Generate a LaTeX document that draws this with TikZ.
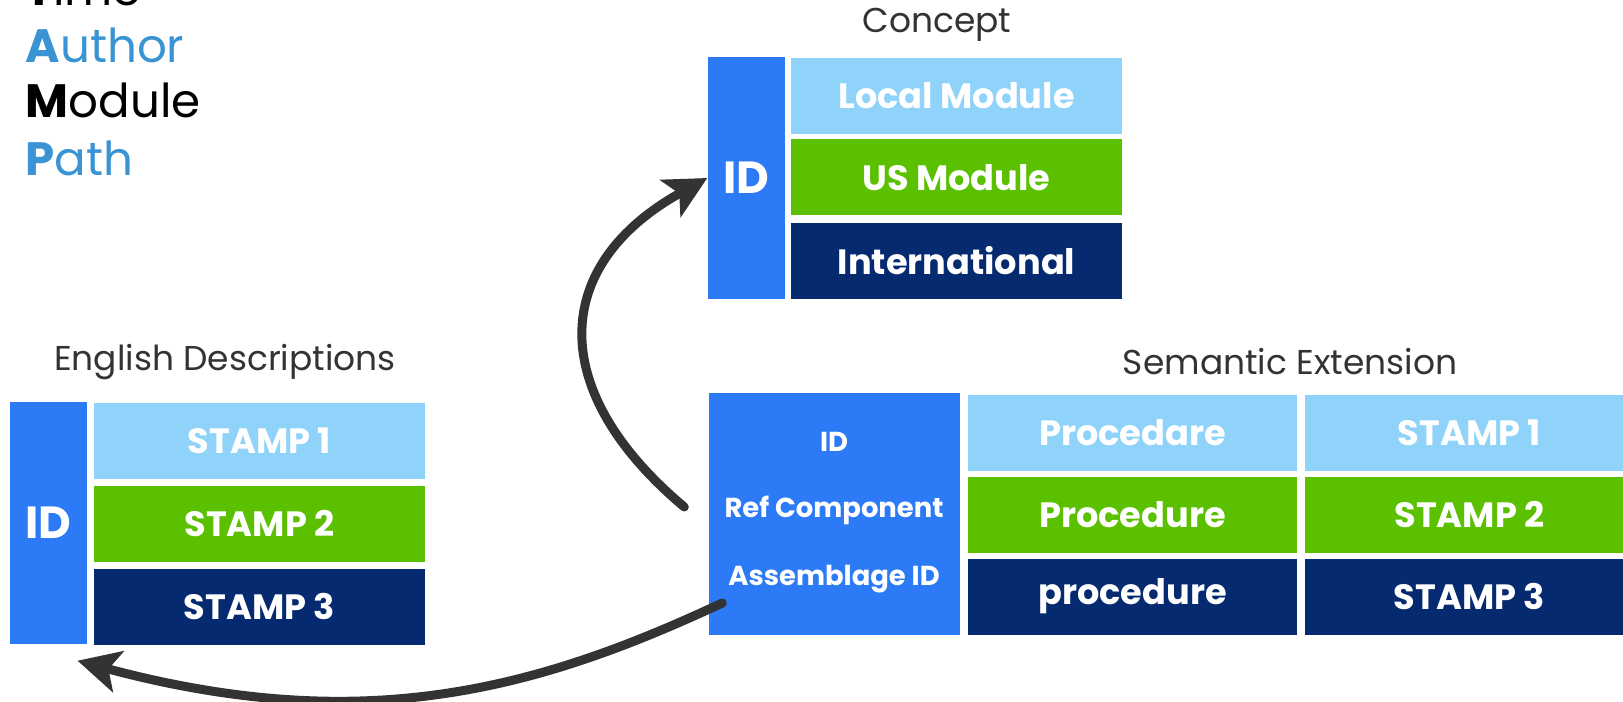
\documentclass[tikz,border=0pt]{standalone}
\usepackage{fontspec}
\setmainfont{Poppins}
\usetikzlibrary{arrows.meta}

\definecolor{idblue}{RGB}{45,122,246}
\definecolor{skyblue}{RGB}{143,211,251}
\definecolor{grass}{RGB}{91,192,0}
\definecolor{navy}{RGB}{5,42,111}
\definecolor{legblue}{RGB}{58,147,211}
\definecolor{titlegray}{RGB}{51,51,51}
\definecolor{arrowgray}{RGB}{51,51,51}

\begin{document}
\begin{tikzpicture}[
  cell/.style={fill=#1, text=white, inner sep=0pt, minimum width=3.31cm, minimum height=0.76cm,
    font=\bfseries\fontsize{10}{12}\selectfont},
  idbar/.style={fill=idblue, text=white, inner sep=0pt, minimum width=0.77cm, minimum height=2.42cm,
    font=\bfseries\fontsize{12.8}{14}\selectfont},
  idline/.style={text=white, inner sep=0pt, font=\bfseries\fontsize{7.8}{9}\selectfont},
  title/.style={text=titlegray, inner sep=0pt, font=\fontsize{9.8}{11}\selectfont},
  legend/.style={anchor=base west, inner sep=0pt, font=\fontsize{13.3}{15}\selectfont},
  link/.style={draw=arrowgray, line width=0.09cm, line cap=round,
    -{Stealth[length=0.42cm,width=0.42cm,inset=0.1cm]}}
]
  \useasboundingbox (0,0) rectangle (16.23,7.01);
  \fill[white] (0,0) rectangle (16.23,7.01);

  % legend
  \node[legend, text=black] (ltime) at (0.25,6.95) {\textbf{T}ime};
  \node[legend, text=legblue] (lauthor) at (0.25,6.38) {\textbf{A}uthor};
  \node[legend, text=black] (lmodule) at (0.25,5.83) {\textbf{M}odule};
  \node[legend, text=legblue] (lpath) at (0.25,5.26) {\textbf{P}ath};

  % concept
  \node[title] (ctitle) at (9.37,6.76) {Concept};
  \node[idbar] (cid) at (7.465,5.23) {ID};
  \node[cell=skyblue] (clocal) at (9.565,6.05) {Local Module};
  \node[cell=grass] (cus) at (9.565,5.235) {US Module};
  \node[cell=navy] (cintl) at (9.565,4.40) {International};

  % english descriptions
  \node[title] (etitle) at (2.25,3.39) {English Descriptions};
  \node[idbar] (eid) at (0.485,1.78) {ID};
  \node[cell=skyblue] (estamp1) at (2.595,2.60) {STAMP 1};
  \node[cell=grass] (estamp2) at (2.595,1.775) {STAMP 2};
  \node[cell=navy] (estamp3) at (2.595,0.945) {STAMP 3};

  % semantic extension
  \node[title] (stitle) at (12.90,3.39) {Semantic Extension};
  \node[idbar, minimum width=2.51cm] (sid) at (8.345,1.87) {};
  \node[idline] (sidid) at (8.34,2.59) {ID};
  \node[idline] (sidref) at (8.34,1.91) {Ref Component};
  \node[idline] (sidasm) at (8.34,1.22) {Assemblage ID};
  \node[cell=skyblue, minimum width=3.29cm] (sterm1) at (11.325,2.68) {Procedare};
  \node[cell=grass, minimum width=3.29cm] (sterm2) at (11.325,1.865) {Procedure};
  \node[cell=navy, minimum width=3.29cm] (sterm3) at (11.325,1.045) {procedure};
  \node[cell=skyblue, minimum width=3.29cm] (sstamp1) at (14.695,2.68) {STAMP 1};
  \node[cell=grass, minimum width=3.29cm] (sstamp2) at (14.695,1.865) {STAMP 2};
  \node[cell=navy, minimum width=3.29cm] (sstamp3) at (14.695,1.045) {STAMP 3};

  % links
  \draw[link] ([xshift=-0.24cm,yshift=0.07cm]sid.west) .. controls +(140:1.8) and +(209:1.8) .. (cid.west);
  \draw[link] ([xshift=0.14cm,yshift=-0.89cm]sid.west) .. controls +(205:2) and +(345:3) .. ([xshift=0.29cm,yshift=-0.16cm]eid.south);
\end{tikzpicture}
\end{document}
